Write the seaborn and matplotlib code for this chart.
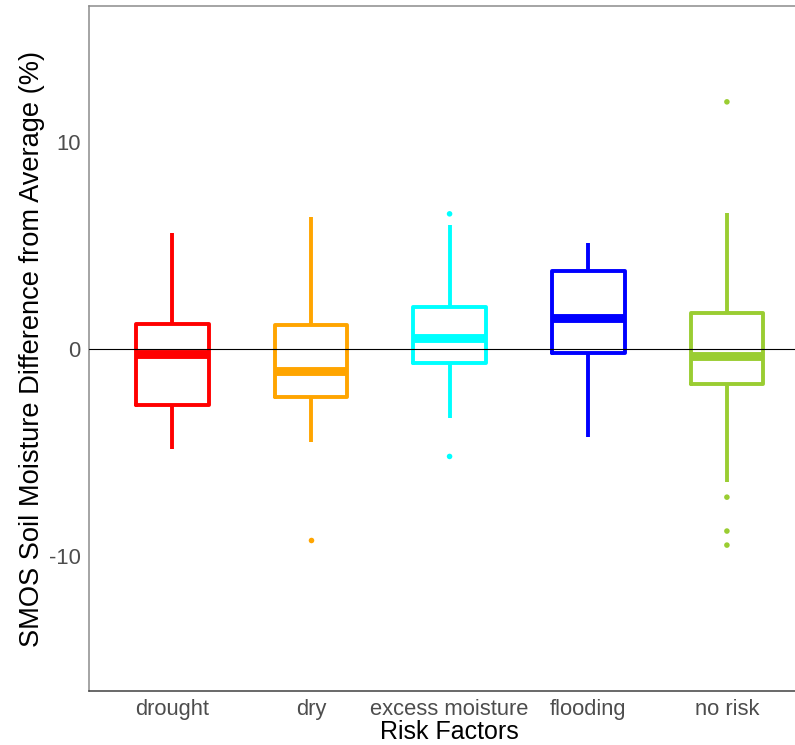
import numpy as np
import pandas as pd
import seaborn as sns
import matplotlib.pyplot as plt

# Box statistics per risk factor (SMOS soil moisture anomaly, %)
categories = ["drought", "dry", "excess moisture", "flooding", "no risk"]
whisker_low = [-4.83, -4.48, -3.35, -4.24, -6.44]
q1 = [-2.70, -2.33, -0.68, -0.21, -1.71]
median = [-0.24, -1.05, 0.55, 1.51, -0.34]
q3 = [1.20, 1.16, 2.05, 3.77, 1.72]
whisker_high = [5.62, 6.39, 6.02, 5.15, 6.58]

# Points lying beyond the whiskers
outlier_category = ["dry", "excess moisture", "excess moisture",
                    "no risk", "no risk", "no risk", "no risk"]
outlier_value = [-9.23, 6.54, -5.20, 11.96, -7.17, -8.81, -9.49]

colors = ["#FF0000", "#FFA500", "#00FFFF", "#0000FF", "#9ACD32"]

# Five-number summaries in long form (quartiles fall exactly on the 2nd/4th values)
rows = []
for i, cat in enumerate(categories):
    for v in (whisker_low[i], q1[i], median[i], q3[i], whisker_high[i]):
        rows.append({"risk": cat, "value": v})
summary = pd.DataFrame(rows)
extremes = pd.DataFrame({"risk": outlier_category, "value": outlier_value})

sns.set_theme(style="white")
plt.rcParams["font.family"] = ["Liberation Sans", "DejaVu Sans"]

fig = plt.figure(figsize=(7.95, 7.45), dpi=100)
# panel runs slightly past the right edge of the canvas
ax = fig.add_axes([0.112, 0.0725, 0.907, 0.9195])

sns.boxplot(data=summary, x="risk", y="value", hue="risk",
            order=categories, hue_order=categories, palette=colors,
            fill=False, width=0.525, whis=(0, 100), showcaps=False,
            showfliers=False, linewidth=2.8,
            medianprops=dict(linewidth=6.4, solid_capstyle="butt"),
            legend=False, ax=ax)

sns.stripplot(data=extremes, x="risk", y="value", hue="risk",
              order=categories, hue_order=categories, palette=colors,
              jitter=False, size=4.0, linewidth=0, legend=False, ax=ax)

ax.axhline(0, color="black", linewidth=0.8, zorder=5)

ax.set_xlim(-0.6, 4.6)
ax.set_ylim(-16.55, 16.6)
ax.set_yticks([-10, 0, 10])
ax.set_yticklabels(["-10", "0", "10"])

ax.set_xlabel("Risk Factors", fontsize=18, color="black", labelpad=0)
ax.set_ylabel("SMOS Soil Moisture Difference from Average (%)",
              fontsize=19.6, color="black", labelpad=2.5)

ax.tick_params(axis="both", which="major", direction="out", length=3.5,
               width=0.9, color="#8C8C8C", labelcolor="#4D4D4D",
               labelsize=15.8, pad=2.5)

for side in ("left", "right", "top", "bottom"):
    ax.spines[side].set_visible(True)
    ax.spines[side].set_color("#8C8C8C")
    ax.spines[side].set_linewidth(1.1)
ax.spines["bottom"].set_color("#404040")

ax.grid(False)
fig.savefig("out.png", dpi=100)
